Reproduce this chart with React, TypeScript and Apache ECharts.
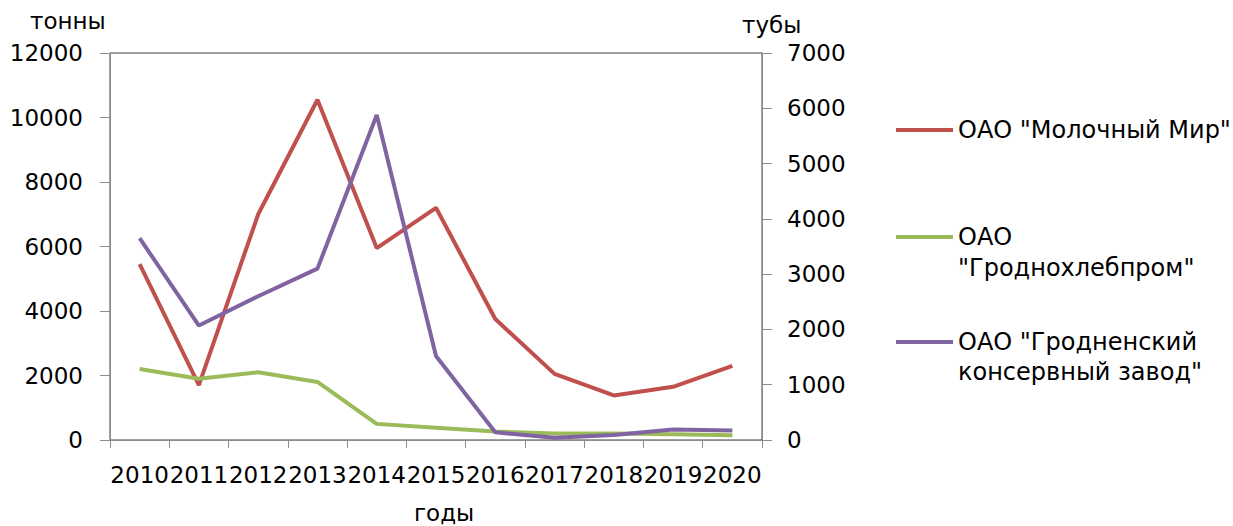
import React, { useEffect, useRef } from "react";
import * as echarts from "echarts";

const years = ["2010", "2011", "2012", "2013", "2014", "2015", "2016", "2017", "2018", "2019", "2020"];
const milkName = 'ОАО "Молочный Мир"';
const breadName = 'ОАО "Гроднохлебпром"';
const cannedName = 'ОАО "Гродненский консервный завод"';
// тонны (left axis)
const milkValues = [5450, 1700, 7000, 10550, 5950, 7200, 3750, 2050, 1380, 1650, 2300];
const breadValues = [2200, 1900, 2100, 1800, 500, 380, 260, 200, 200, 180, 150];
// тубы (right axis)
const cannedValues = [3650, 2070, 2600, 3100, 5880, 1520, 140, 40, 90, 190, 170];

const leftAxisName = "тонны";
const rightAxisName = "тубы";
const xAxisName = "годы";

const FONT = "DejaVu Sans";
const RED = "#C0504D";
const GREEN = "#9BBB59";
const PURPLE = "#8064A2";
const AXIS_GRAY = "#8c8c8c";

export default function App() {
  const ref = useRef<HTMLDivElement>(null);
  useEffect(() => {
    if (!ref.current) return;
    const chart = echarts.init(ref.current, undefined, { renderer: "svg" });
    const textStyle = { fontFamily: FONT, fontSize: 23, color: "#000" };
    const legendText = { fontFamily: FONT, fontSize: 24, color: "#000" };
    const plain = (v: number) => String(v);
    const legendBase = {
      orient: "vertical",
      left: 896,
      padding: 0,
      itemWidth: 57,
      selectedMode: false,
      textStyle: { ...legendText, lineHeight: 31 },
    };
    chart.setOption({
      animation: false,
      backgroundColor: "#fff",
      grid: {
        left: 110,
        right: 471,
        top: 53,
        bottom: 86,
        show: true,
        borderColor: "#404040",
        borderWidth: 1,
        backgroundColor: "transparent",
      },
      xAxis: {
        type: "category",
        data: years,
        boundaryGap: true,
        axisLine: { lineStyle: { color: AXIS_GRAY, width: 1 } },
        axisTick: { show: true, length: 8, interval: 0, lineStyle: { color: AXIS_GRAY } },
        axisLabel: { interval: 0, margin: 23, ...textStyle },
      },
      yAxis: [
        {
          type: "value",
          position: "left",
          min: 0,
          max: 12000,
          interval: 2000,
          splitLine: { show: false },
          axisLine: { show: true, lineStyle: { color: AXIS_GRAY, width: 1 } },
          axisTick: { show: true, length: 10, lineStyle: { color: AXIS_GRAY } },
          axisLabel: { margin: 27, formatter: plain, ...textStyle },
        },
        {
          type: "value",
          position: "right",
          min: 0,
          max: 7000,
          interval: 1000,
          splitLine: { show: false },
          axisLine: { show: true, lineStyle: { color: AXIS_GRAY, width: 1 } },
          axisTick: { show: true, length: 10, lineStyle: { color: AXIS_GRAY } },
          axisLabel: { margin: 25, formatter: plain, ...textStyle },
        },
      ],
      legend: [
        {
          ...legendBase,
          top: 114.5,
          itemHeight: 4,
          icon: "path://M0,0L57,0L57,4L0,4Z",
          data: [{ name: milkName, itemStyle: { color: RED, borderWidth: 0 } }],
        },
        {
          ...legendBase,
          top: 221.5,
          itemHeight: 62,
          icon: "path://M0,0L1,0Z M0,13.5L57,13.5L57,17.5L0,17.5Z M0,62L1,62Z",
          formatter: () => 'ОАО\n"Гроднохлебпром"',
          data: [{ name: breadName, itemStyle: { color: GREEN, borderWidth: 0 } }],
        },
        {
          ...legendBase,
          top: 327,
          itemHeight: 60,
          textStyle: { ...legendText, lineHeight: 30 },
          icon: "path://M0,0L1,0Z M0,13L57,13L57,17L0,17Z M0,60L1,60Z",
          formatter: () => 'ОАО "Гродненский\nконсервный завод"',
          data: [{ name: cannedName, itemStyle: { color: PURPLE, borderWidth: 0 } }],
        },
      ],
      graphic: [
        {
          type: "text",
          left: 30,
          top: 9,
          style: { text: leftAxisName, font: `23px "${FONT}"`, fill: "#000" },
        },
        {
          type: "text",
          left: 742,
          top: 13,
          style: { text: rightAxisName, font: `23px "${FONT}"`, fill: "#000" },
        },
        {
          type: "text",
          left: 414,
          top: 501,
          style: { text: xAxisName, font: `23px "${FONT}"`, fill: "#000" },
        },
      ],
      series: [
        {
          name: milkName,
          type: "line",
          yAxisIndex: 0,
          data: milkValues,
          symbol: "none",
          color: RED,
          lineStyle: { color: RED, width: 4 },
        },
        {
          name: breadName,
          type: "line",
          yAxisIndex: 0,
          data: breadValues,
          symbol: "none",
          color: GREEN,
          lineStyle: { color: GREEN, width: 4 },
        },
        {
          name: cannedName,
          type: "line",
          yAxisIndex: 1,
          data: cannedValues,
          symbol: "none",
          color: PURPLE,
          lineStyle: { color: PURPLE, width: 4 },
        },
      ],
    });
    return () => chart.dispose();
  }, []);
  return (
    <div
      ref={ref}
      style={{ position: "fixed", left: 0, top: 0, width: 1233, height: 526, background: "#fff" }}
    />
  );
}
